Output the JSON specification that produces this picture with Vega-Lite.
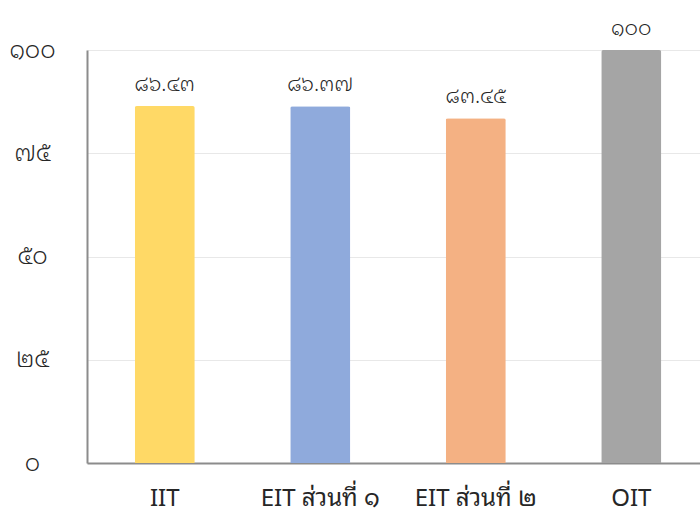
{
  "$schema": "https://vega.github.io/schema/vega-lite/v6.json",
  "autosize": "none",
  "width": 622,
  "height": 413,
  "padding": {"left": 87, "top": 50, "right": 0, "bottom": 50},
  "background": "white",
  "config": {"view": {"stroke": null}, "font": "Noto Sans Thai Looped"},
  "data": {"values": [
    {"category": "IIT", "score": 86.43, "label": "๘๖.๔๓", "color": "#FFD966"},
    {"category": "EIT ส่วนที่ ๑", "score": 86.37, "label": "๘๖.๓๗", "color": "#8FAADC"},
    {"category": "EIT ส่วนที่ ๒", "score": 83.45, "label": "๘๓.๔๕", "color": "#F4B183"},
    {"category": "OIT", "score": 100, "label": "๑๐๐", "color": "#A5A5A5"}
  ]},
  "encoding": {
    "x": {"field": "category", "type": "nominal", "sort": null,
      "scale": {"paddingInner": 0.614, "paddingOuter": 0.307},
      "axis": {"title": null, "labelAngle": 0, "labelFontSize": 24, "labelColor": "#262626", "labelPadding": 23, "ticks": false, "domainColor": "#8c8c8c", "domainWidth": 2, "grid": false}},
    "y": {"field": "score", "type": "quantitative",
      "scale": {"domain": [0, 100]},
      "axis": {"title": null, "values": [0, 25, 50, 75, 100], "labelFontSize": 24, "labelFontWeight": 300, "labelColor": "#262626", "labelAlign": "center", "labelPadding": 55, "ticks": false, "domainColor": "#8c8c8c", "domainWidth": 2, "gridColor": "#e8e8e8",
        "labelExpr": "replace(replace(replace(replace(replace(replace(replace(replace(replace(replace(datum.label,/0/g,'๐'),/1/g,'๑'),/2/g,'๒'),/3/g,'๓'),/4/g,'๔'),/5/g,'๕'),/6/g,'๖'),/7/g,'๗'),/8/g,'๘'),/9/g,'๙')"}}
  },
  "layer": [
    {"mark": {"type": "bar", "cornerRadiusTopLeft": 2, "cornerRadiusTopRight": 2},
     "encoding": {"color": {"field": "color", "type": "nominal", "scale": null}}},
    {"mark": {"type": "text", "baseline": "bottom", "dy": -11, "fontSize": 21, "fontWeight": 300, "color": "#262626"},
     "encoding": {"text": {"field": "label"}}}
  ]
}
